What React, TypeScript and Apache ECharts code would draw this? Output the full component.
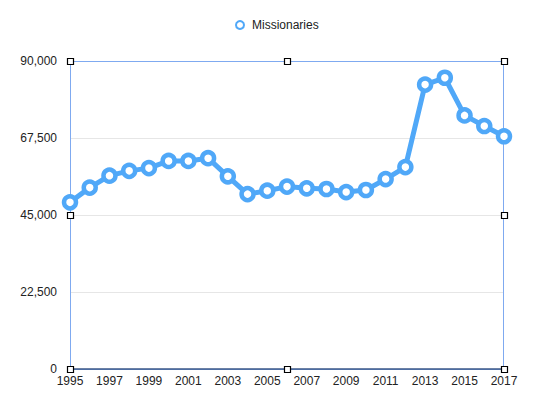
import React, { useEffect, useRef } from "react";
import * as echarts from "echarts";

const years = [
  "1995", "1996", "1997", "1998", "1999", "2000", "2001", "2002", "2003", "2004", "2005", "2006",
  "2007", "2008", "2009", "2010", "2011", "2012", "2013", "2014", "2015", "2016", "2017",
];
const missionaries = [
  48700, 53000, 56500, 57900, 58700, 60800, 60800, 61600, 56300, 51100, 52100, 53300,
  52800, 52600, 51700, 52300, 55500, 59000, 83100, 85100, 74100, 71000, 68000,
];
const seriesName = "Missionaries";

const W = 544;
const H = 406;
const G = { left: 70, right: 40, top: 61, bottom: 37 };
const BLUE = "#50a8f8";
const FONT = "Liberation Sans, Arial, Helvetica, sans-serif";

export default function App() {
  const ref = useRef<HTMLDivElement>(null);
  useEffect(() => {
    if (!ref.current) return;
    const chart = echarts.init(ref.current, null, { renderer: "svg" });
    const x0 = G.left;
    const x1 = W - G.right;
    const y0 = G.top;
    const y1 = H - G.bottom;
    const xm = (x0 + x1) / 2;
    const ym = (y0 + y1) / 2;
    const handlePts = [
      [x0, y0], [xm, y0], [x1, y0],
      [x0, ym], [x1, ym],
      [x0, y1], [xm, y1], [x1, y1],
    ];
    const hs = 6;
    chart.setOption({
      animation: false,
      textStyle: { fontFamily: FONT },
      legend: {
        data: [
          {
            name: seriesName,
            icon: "circle",
            itemStyle: { color: "#fff", borderColor: BLUE, borderWidth: 2 },
          },
        ],
        left: 230,
        top: 14,
        itemWidth: 8,
        itemHeight: 8,
        textStyle: { fontSize: 12, color: "#222", fontFamily: FONT, padding: [0, 0, 0, 3] },
      },
      grid: { left: G.left, right: G.right, top: G.top, bottom: G.bottom, containLabel: false },
      xAxis: {
        type: "category",
        data: years,
        boundaryGap: false,
        axisTick: { show: false },
        axisLine: { show: true, lineStyle: { color: "#3d5888", width: 1.5 } },
        axisLabel: { interval: 1, color: "#222", fontSize: 12, margin: 6, fontFamily: FONT },
        splitLine: { show: false },
        z: 5,
      },
      yAxis: {
        type: "value",
        min: 0,
        max: 90000,
        interval: 22500,
        axisLine: { show: false },
        axisTick: { show: false },
        axisLabel: {
          color: "#222",
          fontSize: 12,
          margin: 13,
          fontFamily: FONT,
          formatter: (v: number) => v.toLocaleString("en-US"),
        },
        splitLine: { show: true, lineStyle: { color: "#e6e6e6", width: 1 } },
      },
      series: [
        {
          name: seriesName,
          type: "line",
          data: missionaries,
          symbol: "circle",
          symbolSize: 12,
          showAllSymbol: true,
          lineStyle: { color: BLUE, width: 5 },
          itemStyle: { color: "#fff", borderColor: BLUE, borderWidth: 4.5 },
          z: 3,
        },
      ],
      graphic: [
        {
          type: "rect",
          shape: { x: x0 + 0.5, y: y0 + 0.5, width: x1 - x0 - 1, height: y1 - y0 },
          style: { fill: "none", stroke: "#7faaf0", lineWidth: 1 },
          z: 1,
          silent: true,
        },
        ...handlePts.map((p) => ({
          type: "rect",
          shape: { x: Math.round(p[0] - hs / 2) + 0.5, y: Math.round(p[1] - hs / 2) + 0.5, width: hs, height: hs },
          style: { fill: "#fff", stroke: "#000", lineWidth: 1.2 },
          z: 100,
          silent: true,
        })),
      ],
    });
    return () => chart.dispose();
  }, []);
  return (
    <div
      ref={ref}
      style={{ position: "fixed", left: 0, top: 0, width: W, height: H, background: "#fff" }}
    />
  );
}
